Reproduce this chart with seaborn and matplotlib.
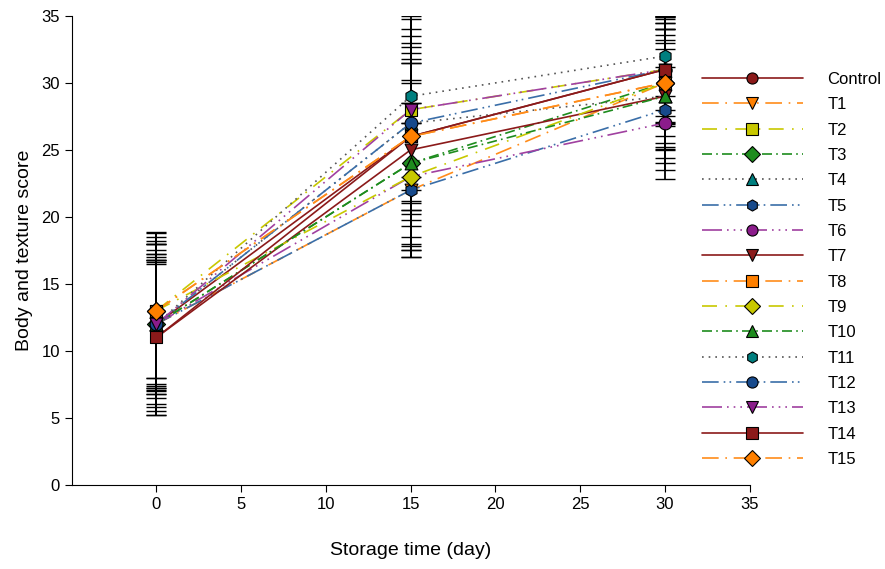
import matplotlib
matplotlib.use("Agg")
import numpy as np
import pandas as pd
import seaborn as sns
import matplotlib.pyplot as plt

days = [0, 15, 30]
names = ["Control", "T1", "T2", "T3", "T4", "T5", "T6", "T7",
         "T8", "T9", "T10", "T11", "T12", "T13", "T14", "T15"]

# mean scores at day 0, 15, 30
score = {
    "Control": [12, 26, 31],
    "T1": [12, 22, 30],
    "T2": [13, 28, 31],
    "T3": [12, 24, 30],
    "T4": [12, 27, 29],
    "T5": [12, 22, 28],
    "T6": [12, 23, 27],
    "T7": [11, 25, 29],
    "T8": [13, 26, 30],
    "T9": [13, 23, 30],
    "T10": [12, 24, 29],
    "T11": [12, 29, 32],
    "T12": [12, 27, 31],
    "T13": [12, 28, 31],
    "T14": [11, 26, 31],
    "T15": [13, 26, 30],
}
# standard deviations
sd = {
    "Control": [6.0, 5.5, 3.5],
    "T1": [5.5, 5.0, 4.0],
    "T2": [5.8, 6.0, 3.0],
    "T3": [4.5, 6.0, 4.5],
    "T4": [6.5, 6.0, 4.0],
    "T5": [5.2, 5.0, 4.5],
    "T6": [5.0, 5.5, 4.2],
    "T7": [5.8, 6.5, 5.0],
    "T8": [5.0, 5.8, 4.8],
    "T9": [5.9, 5.5, 3.2],
    "T10": [4.8, 6.2, 4.6],
    "T11": [6.2, 6.0, 3.0],
    "T12": [4.6, 6.5, 4.0],
    "T13": [5.2, 6.8, 4.1],
    "T14": [5.8, 6.2, 3.9],
    "T15": [5.0, 6.7, 4.9],
}

colors = ["#8b1a1a", "#ff8000", "#c8c800", "#1e8c1e", "#007f7f", "#174a8c", "#8b1c8b"]
linecol = ["#8b1a1a", "#ff8c1a", "#c8c800", "#1e8c1e", "#555555", "#3a6ea8", "#a040a0"]
markers = ["o", "v", "s", "D", "^", "h", "o", "v", "s", "D", "^", "h", "o", "v", "s", "D"]
dashes = [(None, None), (10, 4, 1, 4), (9, 5, 1, 5), (6, 2.5, 1, 2.5), (1, 3),
          (10, 3, 1, 2.5, 1, 3), (12, 3, 1, 3, 1, 3, 1, 3)]

rows = []
for n in names:
    for d, v in zip(days, score[n]):
        rows.append({"day": d, "score": v, "group": n})
df = pd.DataFrame(rows)

sns.set_style("ticks")
plt.rcParams["font.family"] = ["Liberation Sans", "DejaVu Sans"]
plt.rcParams["text.color"] = "black"
plt.rcParams["axes.labelcolor"] = "black"
plt.rcParams["xtick.color"] = "black"
plt.rcParams["ytick.color"] = "black"
plt.rcParams["axes.edgecolor"] = "black"

fig = plt.figure(figsize=(8.85, 5.69), dpi=100)
ax = fig.add_axes([0.081, 0.148, 0.766, 0.824])

handles = []
for i, n in enumerate(names):
    k = i % 7
    ax.errorbar(days, score[n], yerr=sd[n], fmt="none", ecolor="black",
                elinewidth=1.3, capsize=7, capthick=1.0, zorder=2)
    sub = df[df.group == n]
    sns.lineplot(data=sub, x="day", y="score", ax=ax, color=linecol[k],
                 lw=1.2, zorder=3, legend=False)
    ln = ax.lines[-1]
    if dashes[k][0] is not None:
        ln.set_dashes(dashes[k])
    ax.scatter(days, score[n], marker=markers[i], s=85, color=colors[k],
               edgecolor="black", linewidth=0.8, zorder=4)
    h = plt.Line2D([], [], color=linecol[k], lw=1.2, marker=markers[i],
                   markersize=8, markerfacecolor=colors[k],
                   markeredgecolor="black", markeredgewidth=0.8)
    if dashes[k][0] is not None:
        h.set_dashes(dashes[k])
    handles.append(h)

ax.set_xlim(-5, 35)
ax.set_ylim(0, 35)
ax.set_xticks(range(0, 40, 5))
ax.set_yticks(range(0, 40, 5))
ax.tick_params(labelsize=12, direction="out", length=5)
ax.set_xlabel("Storage time (day)", fontsize=14, labelpad=22)
ax.set_ylabel("Body and texture score", fontsize=14, labelpad=6)
sns.despine(ax=ax)

fig.legend(handles, names, loc="upper left", bbox_to_anchor=(0.776, 0.9),
           frameon=False, numpoints=1, handlelength=6.05, handletextpad=1.5,
           fontsize=12, labelspacing=0.62)

fig.savefig("out.png", dpi=100)
